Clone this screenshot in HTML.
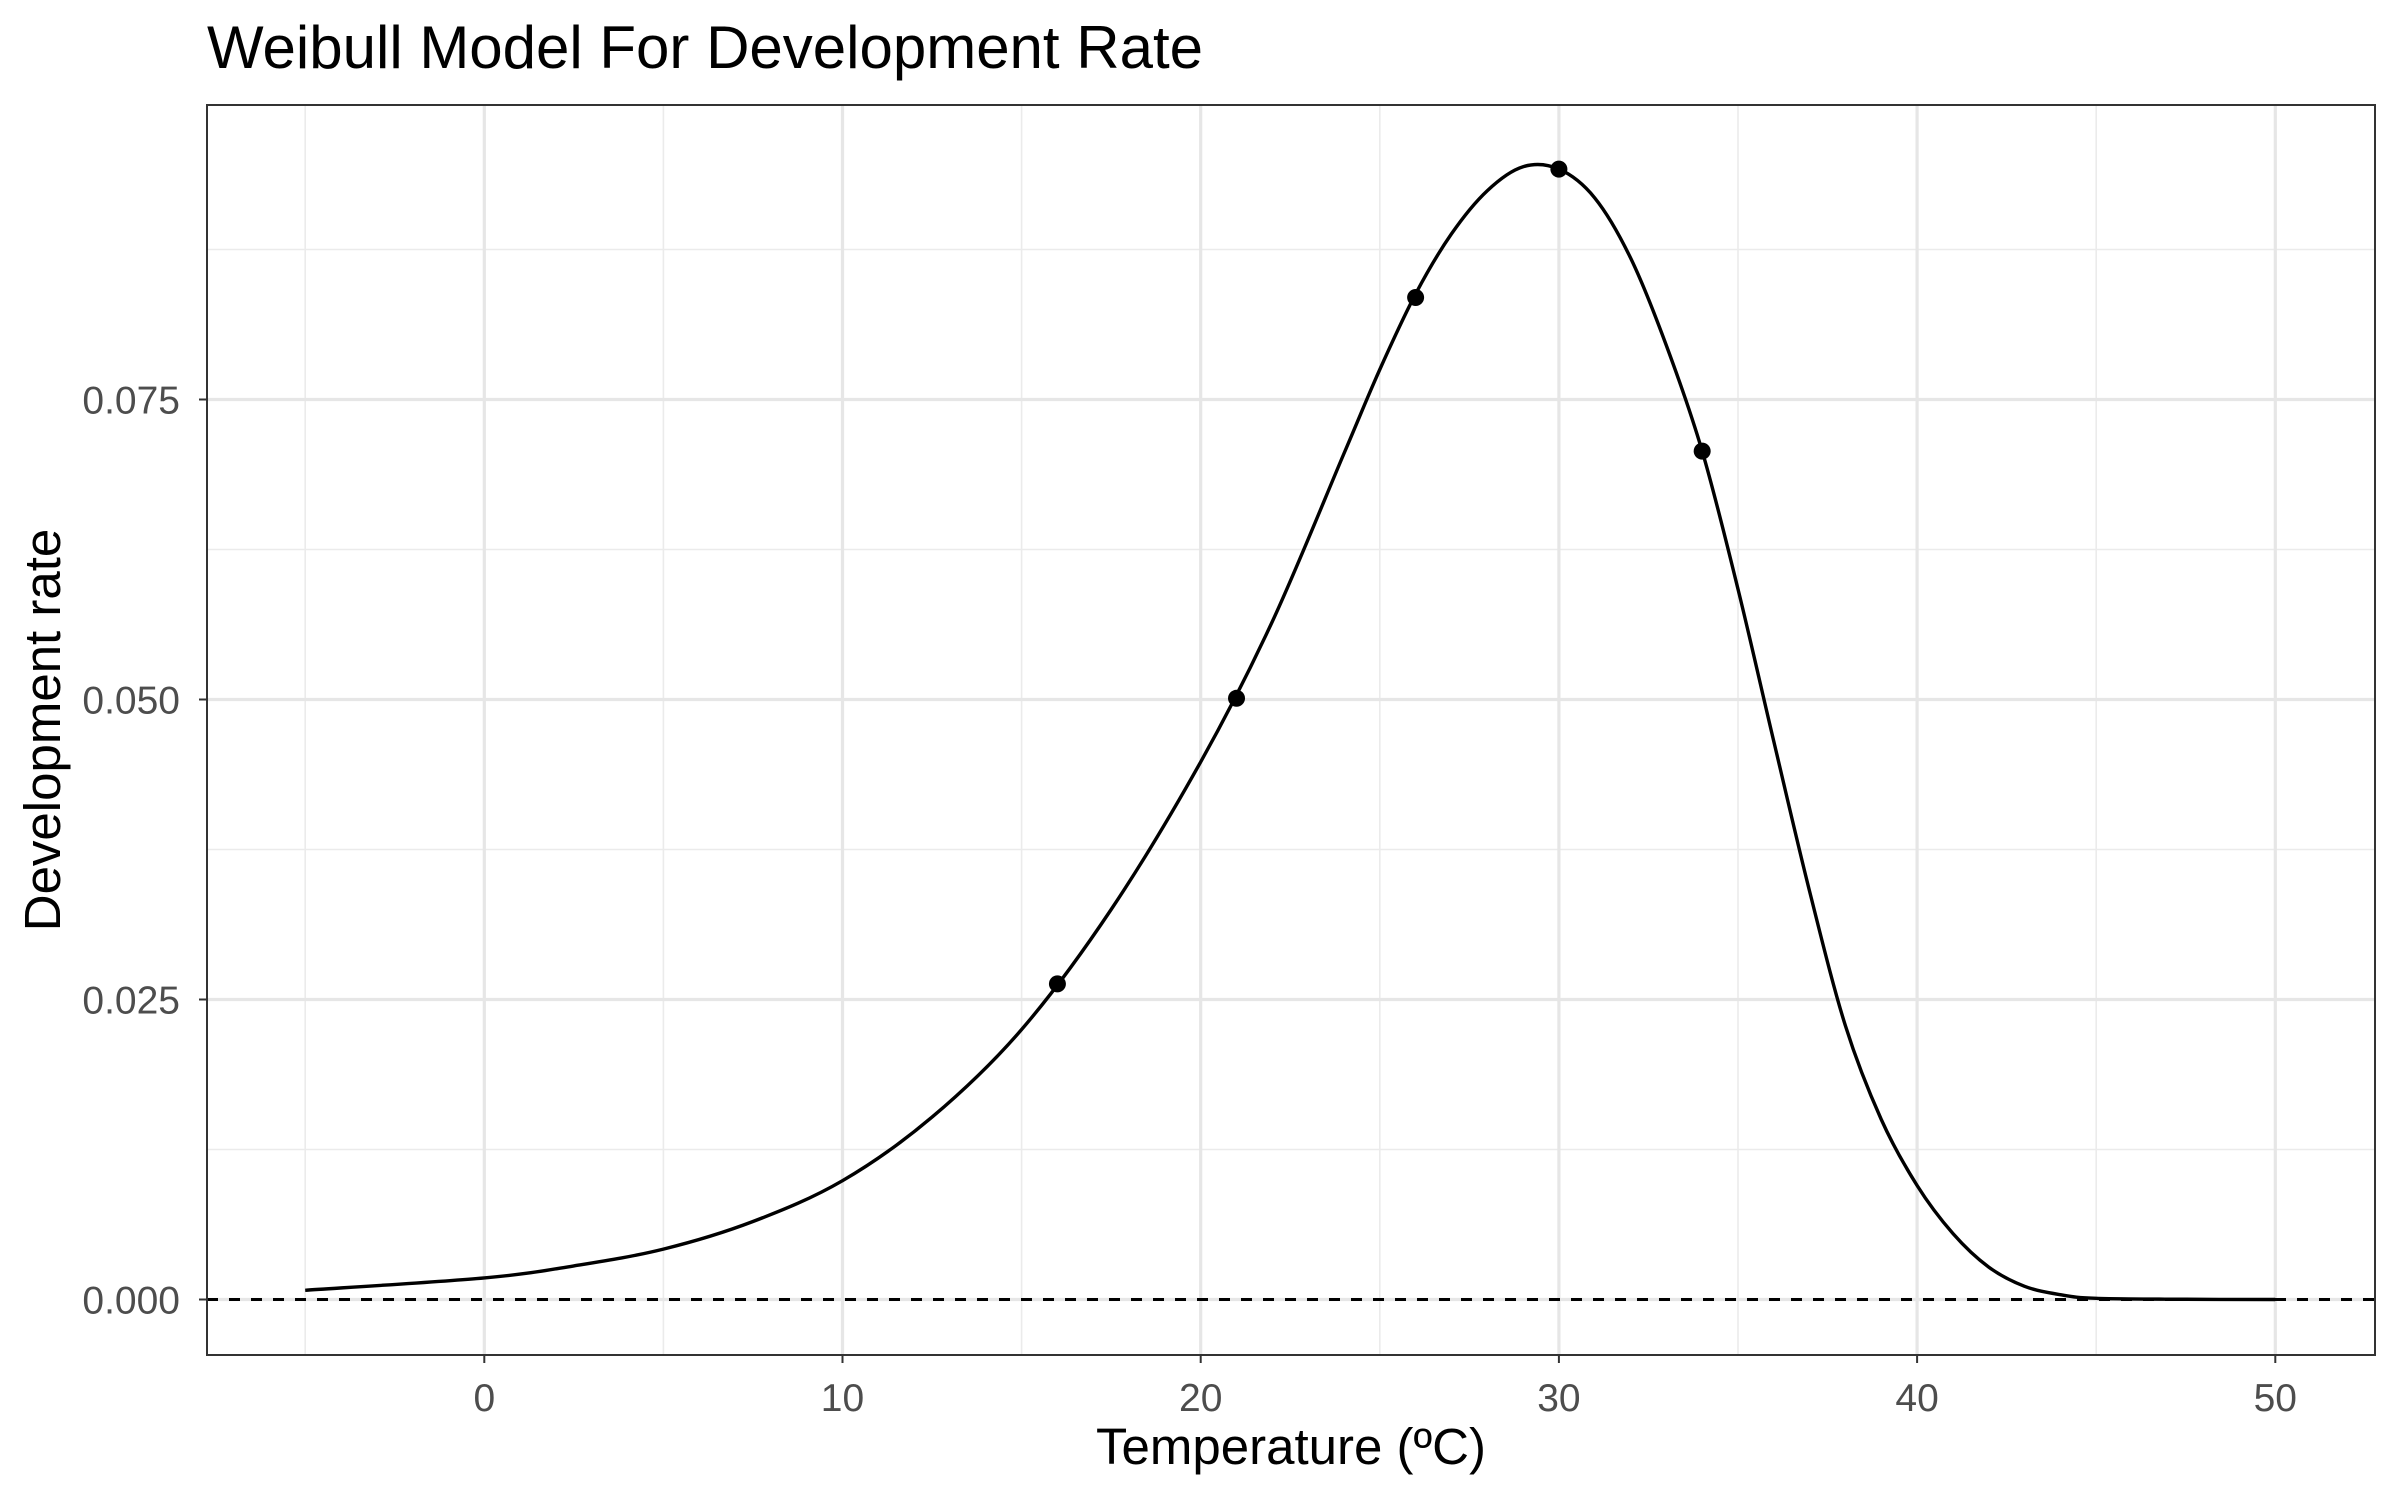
<!DOCTYPE html>
<html><head><meta charset="utf-8"><style>
html,body{margin:0;padding:0;background:#fff;}
svg{display:block;font-family:"Liberation Sans",Arial,sans-serif;}
</style></head><body>
<svg id="chart" width="2400" height="1500" viewBox="0 0 2400 1500">
<text x="207" y="68" font-size="60" fill="#000">Weibull Model For Development Rate</text>
<g id="grid"></g>
<g id="marks"></g>
<rect x="207" y="105" width="2168" height="1250" fill="none" stroke="#333" stroke-width="2"/>
<g id="axes"></g>
<text x="1291" y="1464" font-size="51" text-anchor="middle" fill="#000">Temperature (ºC)</text>
<text transform="translate(60,730) rotate(-90)" font-size="51" text-anchor="middle" fill="#000">Development rate</text>
</svg>
<script>
const xTicks=[0,10,20,30,40,50];
const xMinor=[-5,5,15,25,35,45];
const yTicks=[0,0.025,0.05,0.075];
const yTickLabels=["0.000","0.025","0.050","0.075"];
const yMinor=[0.0125,0.0375,0.0625,0.0875];
const pointT=[16,21,26,30,34];
const pointRate=[0.0263,0.0501,0.0835,0.0942,0.0707];
const curveT=[-5,0,2.5,5,7.5,10,12.5,15,17.5,20,22,24,25,26,27,28,29,30,31,32,33,34,35,36,37,38,39,40,41,42,43,44,45,47.5,50];
const curveRate=[0.00077,0.0018,0.0028,0.0042,0.0065,0.0099,0.0152,0.0225,0.0325,0.0448,0.0565,0.0705,0.0775,0.0838,0.0888,0.0924,0.0944,0.0942,0.0918,0.0868,0.0795,0.0707,0.0592,0.0465,0.0340,0.0228,0.0150,0.0095,0.0055,0.0027,0.0011,0.0004,0.0001,0.00002,0];
const ns="http://www.w3.org/2000/svg";
const X=t=>484.3+t*35.82;
const Y=v=>1299.5-v*12000;
function mk(tag,attrs,parent){const e=document.createElementNS(ns,tag);for(const k in attrs)e.setAttribute(k,attrs[k]);parent.appendChild(e);return e;}
const grid=document.getElementById('grid'),marks=document.getElementById('marks'),axes=document.getElementById('axes');
xMinor.forEach(t=>{const l=mk('line',{x1:X(t),x2:X(t),y1:105,y2:1355,stroke:'#ebebeb','stroke-width':1.6},grid);

});
yMinor.forEach(v=>{const l=mk('line',{x1:207,x2:2375,y1:Y(v),y2:Y(v),stroke:'#ebebeb','stroke-width':1.6},grid);

});
xTicks.forEach(t=>{const l=mk('line',{x1:X(t),x2:X(t),y1:105,y2:1355,stroke:'#e6e6e6','stroke-width':3.2},grid);


const tk=mk('line',{x1:X(t),x2:X(t),y1:1355,y2:1363,stroke:'#333','stroke-width':2},axes);


const tx=mk('text',{x:X(t),y:1411,'font-size':39,'text-anchor':'middle',fill:'#4d4d4d'},axes);tx.textContent=t;

});
yTicks.forEach((v,i)=>{const l=mk('line',{x1:207,x2:2375,y1:Y(v),y2:Y(v),stroke:'#e6e6e6','stroke-width':3.2},grid);


const tk=mk('line',{x1:199,x2:207,y1:Y(v),y2:Y(v),stroke:'#333','stroke-width':2},axes);


const tx=mk('text',{x:180,y:Y(v)+14,'font-size':39,'text-anchor':'end',fill:'#4d4d4d'},axes);tx.textContent=yTickLabels[i];

});
const zl=mk('line',{x1:207,x2:2375,y1:Y(0),y2:Y(0),stroke:'#000','stroke-width':3,'stroke-dasharray':'11,11'},marks);


const P=curveT.map((t,i)=>[X(t),Y(curveRate[i])]);
let d='M'+P[0][0]+','+P[0][1];
for(let i=0;i<P.length-1;i++){const p0=P[Math.max(0,i-1)],p1=P[i],p2=P[i+1],p3=P[Math.min(P.length-1,i+2)];
d+=' C'+(p1[0]+(p2[0]-p0[0])/6)+','+(p1[1]+(p2[1]-p0[1])/6)+' '+(p2[0]-(p3[0]-p1[0])/6)+','+(p2[1]-(p3[1]-p1[1])/6)+' '+p2[0]+','+p2[1];}
const c=mk('path',{d:d,fill:'none',stroke:'#000','stroke-width':3.4},marks);


pointT.forEach((t,i)=>{const p=mk('circle',{cx:X(t),cy:Y(pointRate[i]),r:8.5,fill:'#000'},marks);

});
</script>
</body></html>
